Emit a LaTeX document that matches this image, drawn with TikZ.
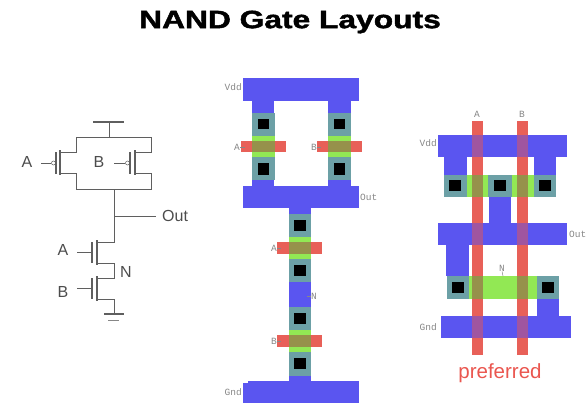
\documentclass[tikz,border=0pt]{standalone}
\usepackage{fontspec}
\setmainfont{Liberation Sans}
\newfontfamily\labelfont{Liberation Mono}
\newfontfamily\titlefont[FakeBold=1.6]{Liberation Sans Bold}
\definecolor{metalblue}{RGB}{90,85,240}
\definecolor{polyred}{RGB}{232,96,88}
\definecolor{diffgreen}{RGB}{146,232,84}
\definecolor{viateal}{RGB}{108,160,166}
\definecolor{polymetal}{RGB}{160,85,160}
\definecolor{polydiff}{RGB}{150,145,75}
\definecolor{labelgray}{RGB}{135,135,135}
\definecolor{wiregray}{RGB}{95,95,95}
\tikzset{
  metal/.style={fill=metalblue},
  poly/.style={fill=polyred},
  diff/.style={fill=diffgreen},
  teal/.style={fill=viateal},
  polyonmetal/.style={fill=polymetal},
  polyondiff/.style={fill=polydiff},
  via/.style={fill=black},
  wire/.style={draw=wiregray, line width=0.9pt},
  lbl/.style={font=\labelfont\fontsize{9.5}{9.5}\selectfont, text=labelgray, inner sep=0pt},
  tick/.style={draw=labelgray, line width=0.5pt},
  pin/.style={font=\fontsize{16}{16}\selectfont, text=black!70, inner sep=0pt}
}
\begin{document}
\begin{tikzpicture}[x=1,y=-1]
\useasboundingbox (0,0) rectangle (588,412);

\node[font=\titlefont\fontsize{25}{25}\selectfont, xscale=1.27, inner sep=0pt] (title) at (290,22) {NAND Gate Layouts};

% schematic
\draw[wire, line width=1.4pt] (93,122) -- (124,122);
\draw[wire] (109,122) -- (109,137);
\draw[wire] (61,152) -- (76,152) -- (76,137) -- (151,137) -- (151,152) -- (135,152);
\draw[wire] (61,173) -- (76,173) -- (76,189) -- (151,189) -- (151,173) -- (135,173);
\draw[wire, line width=1.2pt] (60,150) -- (60,175);
\draw[wire, line width=1.2pt] (56,152) -- (56,174);
\draw[wire, line width=1.2pt] (135,150) -- (135,175);
\draw[wire, line width=1.2pt] (130,152) -- (130,174);
\draw[wire, line width=0.5pt] (53.5,163) circle (2);
\draw[wire, line width=0.5pt] (127.5,163) circle (2);
\node[pin] (pmosa) at (27,162) {A};
\node[pin] (pmosb) at (99,162) {B};
\draw[wire, line width=0.6pt] (41,163) -- (51,163);
\draw[wire, line width=0.6pt] (114,163) -- (125,163);

\node[pin, anchor=west] (out) at (162,216) {Out};
\coordinate (outjoin) at (114,216);
\draw[wire] (114,189) -- (114,242) -- (97,242);
\draw[wire, line width=0.6pt] (outjoin) -- (156,216);

\draw[wire, line width=1.2pt] (97,240) -- (97,265);
\draw[wire, line width=1.2pt] (92,242) -- (92,263);
\draw[wire] (97,263) -- (114,263) -- (114,278) -- (97,278);
\draw[wire, line width=1.2pt] (97,276) -- (97,301);
\draw[wire, line width=1.2pt] (92,278) -- (92,299);
\draw[wire] (97,299) -- (114,299) -- (114,314);
\node[pin] (nmosa) at (63,250) {A};
\node[pin] (nmosb) at (63,292) {B};
\node[pin] (midn) at (126,272) {N};
\draw[wire, line width=0.6pt] (77,252) -- (92,252);
\draw[wire, line width=0.6pt] (77,288) -- (92,288);
\draw[wire, line width=1.4pt] (104,314) -- (124,314);
\draw[labelgray, line width=0.8pt] (108,320) -- (119,320);

% series/parallel layout
\fill[metal] (243,78) rectangle (359,101);
\fill[metal] (243,186) rectangle (359,208);
\fill[metal] (248,381) rectangle (359,403);
\fill[metal] (243,383) rectangle (248,403);
\fill[metal] (252,101) rectangle (274,186);
\fill[metal] (328,101) rectangle (351,186);
\fill[metal] (289,208) rectangle (311,381);
\foreach \x in {252,328}{
  \fill[teal] (\x,113) rectangle (\x+22.5,180);
  \fill[diff] (\x,136) rectangle (\x+22.5,157);
  \fill[poly] (\x-11,141) rectangle (\x+34,152);
  \fill[polyondiff] (\x,141) rectangle (\x+22.5,152);
  \fill[via] (\x+6,119) rectangle (\x+17,129);
  \fill[via] (\x+6,163) rectangle (\x+17,175);
}
\fill[teal] (289,214) rectangle (311,282);
\fill[teal] (289,307) rectangle (311,376);
\foreach \y in {237,330}{
  \fill[diff] (289,\y) rectangle (311,\y+22);
  \fill[poly] (277,\y+5) rectangle (322,\y+17);
  \fill[polyondiff] (289,\y+5) rectangle (311,\y+17);
}
\foreach \y in {220,265,313,358}{
  \fill[via] (294,\y) rectangle (306,\y+11);
}
\node[lbl, anchor=east] (vddone) at (242,87) {Vdd};
\node[lbl, anchor=east] (gndone) at (242,392) {Gnd};
\node[lbl, anchor=west] (outone) at (360,197) {Out};
\node[lbl] (aone) at (237,147) {A};
\node[lbl] (bone) at (314,147) {B};
\node[lbl] (atwo) at (274,248) {A};
\node[lbl] (btwo) at (274,341) {B};
\node[lbl] (nmid) at (314,296) {N};
\draw[tick] (aone.east) -- (245,147);
\draw[tick] (bone.east) -- (321,147);
\draw[tick] (atwo.east) -- (281,248);
\draw[tick] (btwo.east) -- (281,341);
\draw[tick] (nmid.west) -- (307,296);

% preferred layout
\fill[metal] (438,135) rectangle (567,157);
\fill[metal] (438,223) rectangle (567,245);
\fill[metal] (441,316) rectangle (571,338);
\fill[metal] (444,157) rectangle (467,175);
\fill[metal] (534,157) rectangle (556,175);
\fill[metal] (489,197) rectangle (511,223);
\fill[metal] (446,245) rectangle (469,276);
\fill[metal] (537,299) rectangle (559,316);
\fill[teal] (444,175) rectangle (556,197);
\fill[diff] (467,175) rectangle (488,197);
\fill[diff] (512,175) rectangle (534,197);
\fill[teal] (447,276) rectangle (559,299);
\fill[diff] (469,276) rectangle (537,299);
\foreach \x in {472,517}{
  \fill[poly] (\x,121) rectangle (\x+11,355);
  \fill[polyonmetal] (\x,135) rectangle (\x+11,157);
  \fill[polyonmetal] (\x,223) rectangle (\x+11,245);
  \fill[polyonmetal] (\x,316) rectangle (\x+11,338);
  \fill[polyondiff] (\x,175) rectangle (\x+11,197);
  \fill[polyondiff] (\x,276) rectangle (\x+11,299);
}
\foreach \x in {449,494,539}{
  \fill[via] (\x,180) rectangle (\x+12,191);
}
\fill[via] (452,282) rectangle (464,293);
\fill[via] (542,282) rectangle (554,293);
\node[lbl] (atop) at (477,114) {A};
\node[lbl] (btop) at (522,114) {B};
\node[lbl, anchor=east] (vddtwo) at (437,143) {Vdd};
\node[lbl, anchor=west] (outtwo) at (569,234) {Out};
\node[lbl, anchor=east] (gndtwo) at (437,327) {Gnd};
\node[lbl] (ntop) at (502,268) {N};
\draw[tick] (ntop.south) -- (503,276);

\node[font=\fontsize{20.5}{20.5}\selectfont, text=polyred!90!red, inner sep=0pt] (pref) at (500,373) {preferred};
\end{tikzpicture}
\end{document}
